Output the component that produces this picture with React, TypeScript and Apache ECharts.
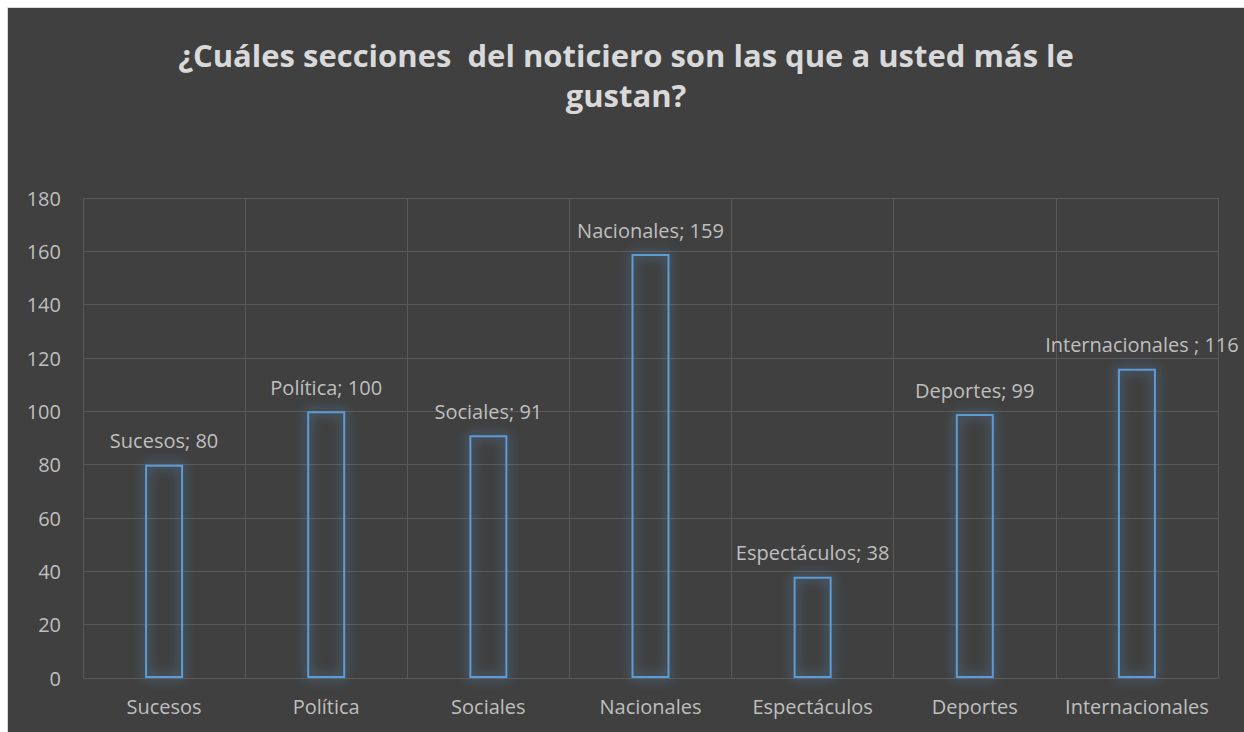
import React, { useEffect, useRef } from "react";
import * as echarts from "echarts";

const titleLines = ["¿Cuáles secciones  del noticiero son las que a usted más le", "gustan?"];
const categories = ["Sucesos", "Política", "Sociales", "Nacionales", "Espectáculos", "Deportes", "Internacionales"];
const labelNames = ["Sucesos", "Política", "Sociales", "Nacionales", "Espectáculos", "Deportes", "Internacionales "];
const values = [80, 100, 91, 159, 38, 99, 116];
const yMin = 0;
const yMax = 180;
const yStep = 20;

export default function App() {
  const ref = useRef<HTMLDivElement>(null);
  useEffect(() => {
    document.body.style.overflow = "hidden";
    const chart = echarts.init(ref.current!, null, { renderer: "svg" });
    const font = "'Open Sans', sans-serif";
    chart.setOption({
      animation: false,
      backgroundColor: "#404040",
      graphic: titleLines.map((t, i) => ({
        type: "text",
        x: 618,
        y: 47 + i * 40,
        style: {
          text: t,
          fill: "#d9d9d9",
          font: `bold 31px ${font}`,
          textAlign: "center",
          textVerticalAlign: "middle",
        },
      })),
      grid: { left: 75, right: 26, top: 190, bottom: 54, containLabel: false },
      xAxis: {
        type: "category",
        data: categories,
        axisLine: { show: false },
        axisTick: { show: false },
        splitLine: { show: true, lineStyle: { color: "#595959", width: 1 } },
        axisLabel: { color: "#bfbfbf", fontFamily: font, fontSize: 20, margin: 18, interval: 0 },
      },
      yAxis: {
        type: "value",
        min: yMin,
        max: yMax,
        interval: yStep,
        axisLine: { show: false },
        axisTick: { show: false },
        splitLine: { lineStyle: { color: "#595959", width: 1 } },
        axisLabel: { color: "#bfbfbf", fontFamily: font, fontSize: 20, margin: 22 },
      },
      series: [
        {
          type: "bar",
          barWidth: 38,
          data: values.map((v, i) => ({
            value: v,
            label: i === 6 ? { offset: [5, 0] } : undefined,
          })),
          itemStyle: {
            color: "rgba(64,64,64,0)",
            borderColor: "#5b9bd5",
            borderWidth: 2,
            shadowBlur: 12,
            shadowColor: "rgba(91,155,213,1)",
          },
          label: {
            show: true,
            position: "top",
            distance: 14,
            color: "#bfbfbf",
            fontFamily: font,
            fontSize: 20,
            formatter: (p: any) => `${labelNames[p.dataIndex]}; ${p.value}`,
          },
        },
      ],
    });
    return () => chart.dispose();
  }, []);
  return (
    <div
      ref={ref}
      style={{
        position: "absolute",
        left: 7,
        top: 7,
        width: 1236,
        height: 724,
        border: "1px solid #d9d9d9",
        borderRight: "none",
        borderBottom: "none",
      }}
    />
  );
}
